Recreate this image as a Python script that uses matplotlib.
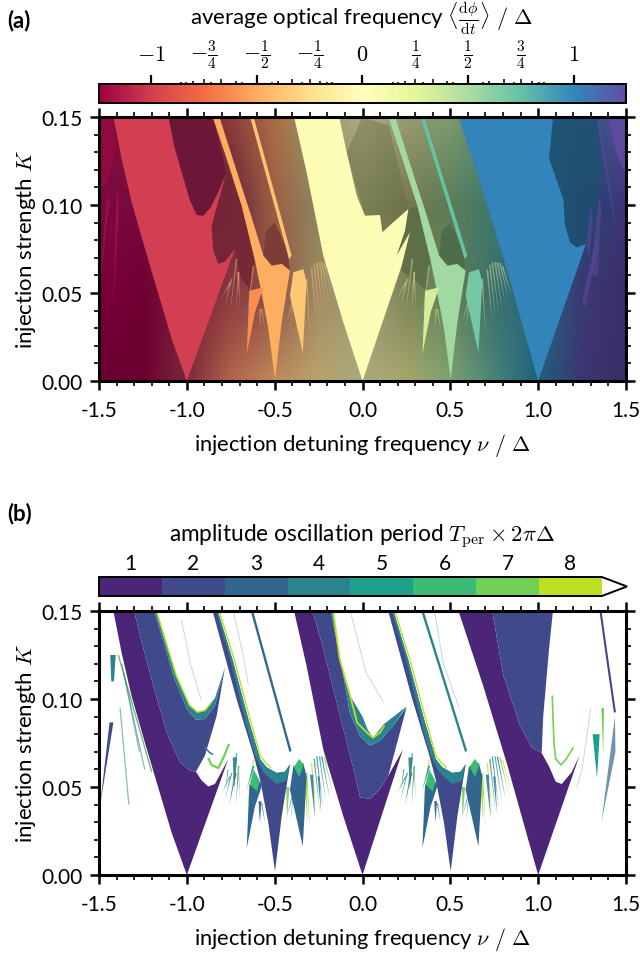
import numpy as np
import matplotlib
matplotlib.use("Agg")
import matplotlib.pyplot as plt
from matplotlib.colors import BoundaryNorm, ListedColormap, Normalize, to_rgb
from matplotlib.cm import ScalarMappable
from matplotlib.ticker import MultipleLocator

plt.rcParams['font.family'] = ['Lato', 'DejaVu Sans']
plt.rcParams['mathtext.fontset'] = 'cm'
plt.rcParams['axes.unicode_minus'] = False
plt.rcParams['font.size'] = 15

##======= data (nu, K) =======
bg_nu = [-1.5, -1.25, -1.0, -0.75, -0.5, -0.25, 0.0, 0.25, 0.5, 0.75, 1.0, 1.25, 1.5]
bg_K = [0.0, 0.05, 0.10, 0.15]
bg_colors = [
    ['#6b0032', '#6e0030', '#7a2a3a', '#b4644a', '#c08b5c', '#b9a46c', '#a8a87f', '#a8a86a', '#7aa372', '#4a8478', '#1f5f7a', '#3c3572', '#3b2e68'],
    ['#7a0038', '#6f0033', '#7a1c3a', '#8b3a40', '#8c5046', '#a08a60', '#a0a078', '#7f8458', '#667f5a', '#3a6f6a', '#246a8a', '#3b3a73', '#3b2e68'],
    ['#7a0a3f', '#780a3c', '#701a3a', '#6b1f3a', '#9b6043', '#8d8560', '#8f8f68', '#767850', '#5c7c57', '#3c7a70', '#246a8a', '#23476e', '#3f3478'],
    ['#8a0a40', '#7c1238', '#741a3a', '#8d3c3a', '#a86e44', '#9c9a6e', '#b0aa80', '#9a9a70', '#7b9b70', '#4d8a7a', '#2a6f92', '#245a78', '#5b4a9e'],
]

tongue_m1_a = [(-1.422, .152), (-1.108, .152), (-1.073, .1337), (-1.03, .1186), (-.982, .1025), (-.944, .0943),
               (-.906, .0939), (-.864, .0987), (-.821, .1072), (-.777, .1176), (-.859, .0883), (-.85, .0741),
               (-.821, .0665), (-.783, .0678), (-.726, .075), (-1.0, 0), (-1.086, .0239), (-1.162, .0494),
               (-1.238, .075), (-1.314, .1015), (-1.371, .1261)]
tongue_0_a = [(0, 0), (-.109, .0333), (-.223, .0712), (-.318, .1186), (-.394, .152), (-.137, .152), (-.09, .1299),
              (-.033, .1053), (.014, .0939), (.1, .0943), (.113, .0845), (.175, .0902), (.261, .0977), (.242, .0854),
              (.194, .0712), (.27, .0845), (.223, .0655)]
tongue_p1_a = [(1.0, 0), (.821, .0636), (.688, .1072), (.54, .152), (1.086, .152), (1.062, .1261), (1.143, .1034),
               (1.153, .0883), (1.181, .0788), (1.219, .0759), (1.272, .0778)]

band_a = [(-.859, .152), (-.821, .152), (-.726, .1224), (-.64, .0958), (-.564, .0712), (-.517, .0655), (-.46, .0665),
          (-.413, .0627), (-.46, .0333), (-.498, .001), (-.536, .0295), (-.583, .0542), (-.612, .0684), (-.688, .0996),
          (-.773, .1261)]
band_b_cell1 = [(-.645, .152), (-.625, .152), (-.403, .0712), (-.418, .0693)]
band_b_cell2 = [(.325, .152), (.345, .152), (.597, .0712), (.582, .0693)]
small_left = [(-.659, .0153), (-.644, .0513), (-.564, .0532), (-.612, .039)]
small_right = [(-.34, .0163), (-.413, .0485), (-.394, .0617), (-.337, .0636), (-.318, .056)]

dark_m1 = [(-1.111, .152), (-.944, .09), (-.906, .09), (-.777, .1176), (-.792, .1261), (-.859, .152)]
dark_m1_low = [(-.777, .1176), (-.859, .0883), (-.85, .0741), (-.821, .0665), (-.783, .0678), (-.726, .075), (-.70, .06),
               (-.644, .052), (-.612, .0684), (-.688, .0996)]
notch_cell = [(-.564, .0712), (-.517, .0655), (-.46, .0665), (-.413, .0627), (-.43, .075), (-.5, .09), (-.55, .085)]
dark_0 = [(-.09, .1299), (.014, .0939), (.1, .0943), (.113, .0845), (.261, .0977), (.15, .145), (.0, .15)]
dark_0_low = [(.261, .0977), (.194, .0712), (.23, .062), (.36, .052), (.388, .0684), (.312, .0996)]
dark_p1 = [(1.086, .152), (1.062, .1261), (1.143, .1034), (1.153, .0883), (1.181, .0788), (1.219, .0759), (1.272, .0778),
           (1.33, .10), (1.37, .12), (1.33, .152)]
purple_top = [(1.39, .152), (1.5, .152), (1.5, .117), (1.45, .128)]
purple_streaks = [[(1.33, .152), (1.345, .152), (1.44, .09), (1.432, .09)],
                  [(1.272, .078), (1.30, .10), (1.31, .09), (1.29, .07)],
                  [(1.30, .06), (1.345, .105), (1.36, .10), (1.34, .06)],
                  [(1.25, .045), (1.33, .082), (1.335, .075), (1.27, .042)]]
crimson_top = [(-1.5, .152), (-1.43, .152), (-1.40, .135), (-1.45, .113), (-1.5, .108)]
crimson_spikes = [[(-1.5, .05), (-1.455, .105), (-1.44, .102)], [(-1.48, .05), (-1.43, .09), (-1.415, .1)], [(-1.42, .04), (-1.40, .11), (-1.385, .1)]]

# (tip nu, tip K, base nu, base K)
spikes = [(-.432, .0333, -.394, .0466), (-.41, .03, -.39, .05), (-.385, .035, -.365, .052),
          (-.299, .0258, -.318, .058), (-.261, .0333, -.29, .0636), (-.242, .035, -.275, .066),
          (-.223, .0371, -.261, .0674), (-.205, .04, -.245, .0674), (-.185, .0428, -.232, .0674),
          (-.165, .045, -.218, .067), (-.147, .0466, -.204, .0655),
          (-.802, .0466, -.754, .056), (-.785, .042, -.745, .058), (-.754, .039, -.716, .0693),
          (-.72, .04, -.705, .062), (-.697, .0428, -.707, .0617),
          (-.659, .0352, -.621, .0655), (-.583, .0295, -.583, .0409), (-.555, .0295, -.574, .0409)]
# (tip nu, tip K, base nu, base K, half width)
wide_spikes = [(-.731, .0489, -.726, .0668, .013), (-.66, .048, -.62, .062, .006), (-.585, .03, -.584, .042, .008),
               (-.43, .032, -.425, .05, .009), (-.315, .03, -.322, .056, .009), (-.27, .032, -.29, .057, .009),
               (-.235, .035, -.25, .056, .006), (-.78, .048, -.765, .06, .003), (-.76, .04, -.72, .058, .004)]

# panel b outlines
blue_m1 = [(-1.305, .152), (-1.257, .1322), (-1.191, .1076), (-1.115, .081), (-1.039, .064), (-.982, .0593), (-.948, .0587),
           (-.897, .0678), (-.83, .0905), (-.783, .118), (-.84, .0962), (-.897, .0886), (-.948, .0883), (-1.0, .0943),
           (-1.077, .1133), (-1.143, .136), (-1.191, .152)]
teal_m1 = [(-1.191, .152), (-1.143, .136), (-1.077, .1133), (-1.0, .0943), (-.948, .0883), (-.897, .0886), (-.84, .0962),
           (-.783, .118), (-.84, .1005), (-.897, .0935), (-.94, .0925), (-.985, .0965), (-1.06, .1133), (-1.13, .136), (-1.179, .152)]
yellow_m1 = [(-1.179, .152), (-1.13, .136), (-1.06, .1133), (-.985, .0965), (-.94, .0925), (-.897, .0935), (-.86, .098)]
purple_m1 = [(-1.422, .152), (-1.305, .152), (-1.257, .1322), (-1.191, .1076), (-1.115, .081), (-1.039, .064), (-.982, .0593),
             (-.948, .0587), (-.916, .0537), (-.878, .0503), (-.84, .0517), (-.764, .0659), (-1.0, 0), (-1.086, .0239),
             (-1.162, .0494), (-1.238, .075), (-1.314, .1015), (-1.371, .1261)]
blue_0 = [(-.289, .152), (-.223, .1284), (-.128, .0905), (-.033, .0527), (-.014, .0442), (.043, .0432), (.1, .0489), (.147, .0564),
          (.251, .0953), (.175, .0848), (.1, .0763), (.043, .0735), (-.014, .079), (-.071, .0915), (-.109, .1133), (-.185, .152)]
teal_0 = [(-.185, .152), (-.109, .1133), (-.071, .0915), (-.014, .079), (.043, .0735), (.1, .0763), (.175, .0848), (.251, .0958),
          (.119, .0855), (.1, .083), (.06, .078), (.03, .0825), (0, .09), (-.071, .102), (-.13, .123), (-.17, .152)]
yellow_0 = [(-.17, .152), (-.13, .123), (-.071, .102), (-.03, .0865), (.03, .0805), (.06, .078), (.1, .081), (.125, .085)]
purple_0 = [(-.394, .152), (-.289, .152), (-.223, .1284), (-.128, .0905), (-.033, .0527), (-.014, .0442), (.043, .0432), (.1, .0489),
            (.147, .0564), (.23, .0713), (0, 0), (-.109, .0333), (-.223, .0712), (-.318, .1186)]
blue_p1 = [(.735, .152), (.802, .1133), (.897, .0848), (.963, .0725), (1.02, .0693), (1.029, .0905), (1.062, .1284), (1.086, .152)]
purple_p1 = [(.54, .152), (.735, .152), (.802, .1133), (.897, .0848), (.963, .0725), (1.02, .0693), (1.06, .0621), (1.1, .053),
             (1.134, .0517), (1.19, .0583), (1.235, .0678), (1.0, 0), (.821, .0636), (.688, .1072)]
band_blue = [(-.859, .152), (-.716, .0996), (-.621, .0684), (-.583, .0542), (-.536, .0295), (-.498, .002), (-.46, .0333),
             (-.413, .0627), (-.441, .0587), (-.489, .058), (-.546, .0612), (-.583, .0659), (-.65, .0886), (-.74, .1224), (-.83, .152)]
band_teal = [(-.83, .152), (-.74, .1224), (-.65, .0886), (-.583, .0659), (-.546, .0612), (-.489, .058), (-.441, .0587), (-.413, .0631),
             (-.432, .0536), (-.489, .0517), (-.564, .0583), (-.612, .0678), (-.66, .0845), (-.752, .1224), (-.84, .152)]
band_yellow = [(-.822, .152), (-.73, .1224), (-.64, .0886), (-.583, .0679), (-.546, .0632), (-.52, .061)]
line_b_cell1 = [(-.635, .152), (-.41, .0702)]
line_b_cell2 = [(.335, .152), (.59, .0702)]
right_line = [(1.352, .152), (1.40, .118), (1.437, .0924)]
left_wedge = [(-1.494, .0394), (-1.418, .0867), (-1.44, .0867)]
fan_left = [[(-1.39, .125), (-1.20, .0585)], [(-1.36, .115), (-1.24, .06)], [(-1.38, .095), (-1.33, .04)], [(-1.37, .12), (-1.27, .07)]]
green_arc_m1 = [(-.878, .0665), (-.86, .0625), (-.82, .0608), (-.79, .0670), (-.76, .0745)]
teal_arc_m1 = [(-.897, .0725), (-.87, .0695), (-.85, .0685)]
green_arc_p1 = [(1.08, .102), (1.09, .075), (1.10, .066), (1.13, .0625), (1.16, .066), (1.2, .0725)]
hair_lines = [[(-1.03, .145), (-.98, .12), (-.92, .10)], [(-.74, .152), (-.68, .125), (-.65, .108)],
              [(-.3, .152), (-.24, .125), (-.18, .10)], [(-.07, .15), (.02, .115), (.12, .098)],
              [(.41, .15), (.46, .12), (.55, .095)], [(1.3, .095), (1.25, .06), (1.22, .05)]]
spike_colors_b = ['#2a838e', '#1fa08c', '#33668f', '#72d055', '#bddf26', '#2a838e']

period_colors = ['#4a2578', '#404a8a', '#33668f', '#2a838e', '#1fa08c', '#3bbb75', '#72d055', '#bddf26']
period_ticks = [1, 2, 3, 4, 5, 6, 7, 8]
freq_major = [-1, -.5, 0, .5, 1]
freq_major_labels = [r'$-1$', r'$-\frac{1}{2}$', r'$0$', r'$\frac{1}{2}$', r'$1$']
freq_fractions = [(3, 4), (2, 3), (1, 3), (1, 4), (4, 5), (3, 5), (2, 5), (1, 5), (5, 6), (1, 6), (6, 7), (5, 7), (4, 7), (3, 7), (2, 7), (1, 7)]


def poly(ax, pts, color, shift=0.0, alpha=1.0, z=2):
    xy = np.array(pts) + np.array([shift, 0.0])
    ax.fill(xy[:, 0], xy[:, 1], color=color, lw=0, alpha=alpha, zorder=z)


def line(ax, pts, color, lw=1.0, shift=0.0, alpha=1.0, z=3):
    xy = np.array(pts) + np.array([shift, 0.0])
    ax.plot(xy[:, 0], xy[:, 1], color=color, lw=lw, alpha=alpha, zorder=z, solid_capstyle='butt')


def draw_spikes(ax, colors, shift, width=.005, alpha=.45):
    for i, (tx, ty, bx, by) in enumerate(spikes):
        poly(ax, [(tx, ty), (bx - width, by), (bx + width, by)], colors[i % len(colors)], shift, alpha, 2)


def draw_wide_spikes(ax, colors, shift, alpha=.9):
    for i, (tx, ty, bx, by, w) in enumerate(wide_spikes):
        poly(ax, [(tx, ty), (bx - w, by), (bx + w, by)], colors[i % len(colors)], shift, alpha, 2)


def style_axes(ax):
    ax.set_xlim(-1.5, 1.5)
    ax.set_ylim(0, .15)
    ax.xaxis.set_major_locator(MultipleLocator(.5))
    ax.xaxis.set_minor_locator(MultipleLocator(.1))
    ax.yaxis.set_major_locator(MultipleLocator(.05))
    ax.yaxis.set_minor_locator(MultipleLocator(.01))
    ax.tick_params(which='major', direction='out', length=6.5, width=1.8, top=True, right=True, labelsize=15, pad=5)
    ax.tick_params(axis='x', which='major', pad=7)
    ax.tick_params(which='minor', direction='out', length=3.4, width=1.2, top=True, right=True)
    ax.set_yticks([0, .05, .10, .15], ['0.00', '0.05', '0.10', '0.15'])
    ax.set_xticks([-1.5, -1, -.5, 0, .5, 1, 1.5], ['-1.5', '-1.0', '-0.5', '0.0', '0.5', '1.0', '1.5'])
    for s in ax.spines.values():
        s.set_linewidth(2.2)
        s.set_zorder(10)
    ax.set_xlabel(r'injection detuning frequency $\nu\ /\ \Delta$', fontsize=15.8, labelpad=8)
    ax.set_ylabel(r'injection strength $K$', fontsize=16, labelpad=3)


def px_axes(fig, x0, y0, x1, y1):
    w, h = 640, 954
    return fig.add_axes([x0 / w, 1 - y1 / h, (x1 - x0) / w, (y1 - y0) / h])


def Plot():
    fig = plt.figure(figsize=(6.4, 9.54), dpi=100)

    #=========panel a=========
    ax = px_axes(fig, 99, 118, 626, 382)
    rgb = np.array([[to_rgb(c) for c in row] for row in bg_colors])
    dn, dk = bg_nu[1] - bg_nu[0], bg_K[1] - bg_K[0]
    ax.imshow(rgb, origin='lower', aspect='auto', interpolation='bilinear', zorder=0,
              extent=[bg_nu[0] - dn / 2, bg_nu[-1] + dn / 2, bg_K[0] - dk / 2, bg_K[-1] + dk / 2])
    poly(ax, dark_m1, '#6c1638', alpha=.9, z=1)
    poly(ax, dark_m1_low, '#752536', alpha=.85, z=1)
    poly(ax, notch_cell, '#7a3a38', alpha=.9, z=1)
    poly(ax, dark_0, '#5f6a3e', alpha=.4, z=1)
    poly(ax, dark_0_low, '#566a42', alpha=.7, z=1)
    poly(ax, notch_cell, '#4c6a48', shift=1, alpha=.8, z=1)
    poly(ax, dark_p1, '#1e4f72', alpha=.8, z=1)
    poly(ax, purple_top, '#5b4a9e', z=1)
    poly(ax, crimson_top, '#8f0a40', z=1)
    for s in crimson_spikes:
        poly(ax, s, '#9e0c48', z=1)
    for s in purple_streaks:
        poly(ax, s, '#5b4a9e', alpha=.55, z=1)
    draw_spikes(ax, ['#f2c684'], 0)
    draw_spikes(ax, ['#dfe8a0'], 1)
    poly(ax, band_a, '#fdae61')
    poly(ax, band_b_cell1, '#fdc276')
    poly(ax, small_left, '#f98e52')
    poly(ax, small_right, '#fdc776')
    poly(ax, tongue_m1_a, '#d23f52')
    poly(ax, band_a, '#a2d9a2', shift=1)
    poly(ax, band_b_cell2, '#66c2a5')
    poly(ax, small_left, '#d6ee9b', shift=1)
    poly(ax, small_right, '#74c8a6', shift=1)
    poly(ax, tongue_0_a, '#fdfdb5')
    poly(ax, tongue_p1_a, '#3384bb')
    style_axes(ax)

    #=========colourbar a=========
    cax = px_axes(fig, 99, 85, 626, 104)
    sm = ScalarMappable(norm=Normalize(-1.245, 1.245), cmap='Spectral')
    cb = fig.colorbar(sm, cax=cax, orientation='horizontal', ticklocation='top')
    cb.outline.set_linewidth(1.4)
    cax.set_xticks(freq_major, freq_major_labels)
    vals, labels, depth = [], [], []
    for n, d in freq_fractions:
        for sign in (-1, 1):
            vals.append(sign * n / d)
            labels.append((r'$-\frac{%d}{%d}$' % (n, d) if sign < 0 else r'$\frac{%d}{%d}$' % (n, d)) if d == 4 else '')
            depth.append(3.9 if d <= 4 else 2.4 if d == 5 else 1.5)
    cax.set_xticks(vals, labels, minor=True)
    cax.tick_params(which='major', top=True, bottom=False, labeltop=True, labelbottom=False, direction='out',
                    length=6.8, width=1.6, labelsize=16, pad=15)
    cax.tick_params(which='minor', top=True, bottom=False, labeltop=True, labelbottom=False, direction='out',
                    length=3, width=1.1, labelsize=16, pad=19)
    for t, d in zip(cax.xaxis.get_minor_ticks(), depth):
        t.tick2line.set_markersize(d)
        t.label2.set_va('center')
    for t in cax.xaxis.get_major_ticks():
        t.label2.set_va('center')
    fig.text(362 / 640, 1 - 19 / 954, r'average optical frequency $\langle\frac{\mathrm{d}\phi}{\mathrm{d}t}\rangle\ /\ \Delta$',
             ha='center', va='center', fontsize=16)

    #=========panel b=========
    ax = px_axes(fig, 99, 612, 626, 876)
    for shift in (0, 1):
        draw_spikes(ax, spike_colors_b, shift, width=.004, alpha=.75)
        draw_wide_spikes(ax, spike_colors_b, shift)
    for pts in hair_lines:
        line(ax, pts, '#5fa89a', lw=.7, alpha=.4, z=1)
    line(ax, [(-1.39, .125), (-1.20, .0585)], '#bddf26', lw=1, alpha=.6)
    for pts in fan_left:
        line(ax, pts, '#2a838e', lw=.9, alpha=.55)
    poly(ax, left_wedge, '#404a8a')
    poly(ax, [(-1.436, .125), (-1.405, .125), (-1.415, .11), (-1.43, .11)], '#2a838e')
    poly(ax, purple_m1, period_colors[0])
    poly(ax, blue_m1, period_colors[1])
    poly(ax, teal_m1, period_colors[3])
    line(ax, yellow_m1, period_colors[7], lw=1.1)
    line(ax, green_arc_m1, period_colors[6], lw=1.6)
    line(ax, teal_arc_m1, period_colors[3], lw=1.2)
    poly(ax, purple_0, period_colors[0])
    poly(ax, blue_0, period_colors[1])
    poly(ax, teal_0, period_colors[3])
    line(ax, yellow_0, period_colors[7], lw=1.3)
    for shift in (0, 1):
        poly(ax, band_blue, period_colors[1], shift=shift)
        poly(ax, band_teal, period_colors[3], shift=shift)
        line(ax, band_yellow, period_colors[7], lw=1, shift=shift)
        poly(ax, small_left, period_colors[2], shift=shift)
        poly(ax, small_right, period_colors[2], shift=shift)
        poly(ax, [(-.64, .0513), (-.60, .0475), (-.585, .0535), (-.62, .06)], period_colors[5], shift=shift)
        poly(ax, [(-.39, .0615), (-.36, .0555), (-.335, .0625), (-.36, .066)], period_colors[5], shift=shift)
    line(ax, line_b_cell1, period_colors[2], lw=1.7)
    line(ax, line_b_cell2, period_colors[3], lw=1.7)
    poly(ax, purple_p1, period_colors[0])
    poly(ax, blue_p1, period_colors[1])
    line(ax, right_line, period_colors[1], lw=1.5)
    line(ax, green_arc_p1, period_colors[6], lw=1.2)
    poly(ax, [(1.31, .08), (1.35, .08), (1.335, .055)], period_colors[4])
    poly(ax, [(1.36, .095), (1.375, .095), (1.37, .068)], period_colors[6])
    poly(ax, [(1.437, .09), (1.44, .07), (1.36, .03)], period_colors[2], alpha=.7)
    style_axes(ax)

    #=========colourbar b=========
    cax = px_axes(fig, 99, 578, 627, 597)
    cmap = ListedColormap(period_colors).with_extremes(over='white')
    bounds = np.arange(.5, 9)
    sm = ScalarMappable(norm=BoundaryNorm(bounds, cmap.N), cmap=cmap)
    cb = fig.colorbar(sm, cax=cax, orientation='horizontal', ticklocation='top', extend='max',
                      extendfrac=.05, spacing='proportional', ticks=period_ticks, drawedges=False)
    cb.outline.set_linewidth(1.4)
    cax.minorticks_off()
    cax.tick_params(length=0, labelsize=15, pad=3)
    cax.set_xticks(period_ticks, [str(i) for i in period_ticks])
    fig.text(362 / 640, 1 - 537 / 954, r'amplitude oscillation period $T_\mathrm{per}\times 2\pi\Delta$',
             ha='center', va='center', fontsize=16.3)

    fig.text(7 / 640, 1 - 21 / 954, '(a)', fontsize=16, fontweight='bold', va='center')
    fig.text(7 / 640, 1 - 514 / 954, '(b)', fontsize=16, fontweight='bold', va='center')
    fig.savefig('out.png', dpi=100)


if __name__ == '__main__':
    Plot()
